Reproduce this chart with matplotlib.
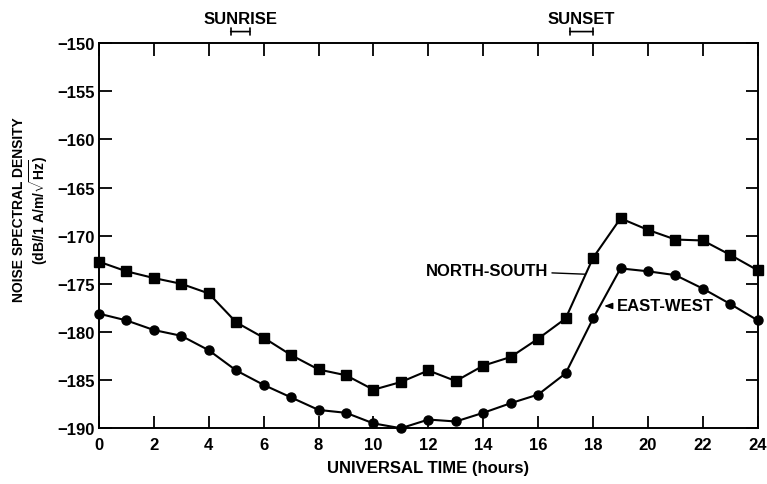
import matplotlib
matplotlib.use("Agg")
import matplotlib.pyplot as plt

plt.rcParams['font.family'] = ['Liberation Sans', 'DejaVu Sans']
plt.rcParams['font.weight'] = 'bold'
plt.rcParams['mathtext.fontset'] = 'custom'
plt.rcParams['mathtext.rm'] = 'Liberation Sans:bold'
plt.rcParams['mathtext.default'] = 'rm'

hours = list(range(25))
north_south = [-172.7, -173.7, -174.4, -175.0, -176.0, -179.0, -180.6, -182.4,
               -183.9, -184.5, -186.0, -185.2, -184.0, -185.1, -183.5, -182.6,
               -180.7, -178.6, -172.3, -168.2, -169.4, -170.4, -170.5, -172.0,
               -173.6]
east_west = [-178.1, -178.8, -179.8, -180.4, -181.9, -184.0, -185.5, -186.8,
             -188.1, -188.4, -189.5, -190.0, -189.1, -189.3, -188.4, -187.4,
             -186.5, -184.3, -178.6, -173.4, -173.7, -174.1, -175.5, -177.1,
             -178.8]
sunrise = (4.8, 5.5)
sunset = (17.15, 18.0)

fs = 12

fig = plt.figure(figsize=(7.67, 4.85), dpi=100)
ax = fig.add_axes([0.129, 0.115, 0.859, 0.794])

ax.plot(hours, north_south, color='black', lw=1.5, marker='s', ms=6.5,
        clip_on=False, zorder=3)
ax.plot(hours, east_west, color='black', lw=1.5, marker='o', ms=6.5,
        clip_on=False, zorder=3)

ax.set_xlim(0, 24)
ax.set_ylim(-190, -150)
ax.set_xticks(range(0, 25, 2))
ax.set_yticks(range(-190, -149, 5))
ax.set_yticklabels([f'\u2212{abs(v)}' for v in range(-190, -149, 5)])
ax.tick_params(direction='in', length=9, width=1.3, top=True, right=True,
               labelsize=fs, pad=3)
ax.tick_params(axis='x', pad=6)
for s in ax.spines.values():
    s.set_linewidth(1.4)

ax.set_xlabel('UNIVERSAL TIME (hours)', fontsize=fs, fontweight='bold', labelpad=6)
ax.set_ylabel('NOISE SPECTRAL DENSITY\n(dB//1 A/m/$\\sqrt{\\mathrm{Hz}}$)',
              fontsize=10, fontweight='bold', linespacing=1.1)
ax.yaxis.set_label_coords(-0.074, 0.57)

# sunrise / sunset bars above the frame
for (a, b), name in [(sunrise, 'SUNRISE'), (sunset, 'SUNSET')]:
    ax.annotate('', xy=(a, 1.03), xytext=(b, 1.03), xycoords=('data', 'axes fraction'),
                arrowprops=dict(arrowstyle='|-|,widthA=0.25,widthB=0.25', lw=1.2,
                                color='black', shrinkA=0, shrinkB=0))
    ax.text((a + b) / 2, 1.045, name, transform=ax.get_xaxis_transform(),
            ha='center', va='bottom', fontsize=fs, fontweight='bold')

ax.annotate('NORTH-SOUTH', xy=(17.7, -174.0), xytext=(16.35, -173.6),
            ha='right', va='center', fontsize=fs, fontweight='bold',
            arrowprops=dict(arrowstyle='-', lw=1.0, color='black',
                            shrinkA=1, shrinkB=0))
ax.annotate('EAST-WEST', xy=(18.4, -177.3), xytext=(18.85, -177.3),
            ha='left', va='center', fontsize=fs, fontweight='bold',
            arrowprops=dict(arrowstyle='-|>,head_length=0.4,head_width=0.15',
                            lw=1.0, color='black', shrinkA=1, shrinkB=0))

fig.savefig('out.png', dpi=100)
